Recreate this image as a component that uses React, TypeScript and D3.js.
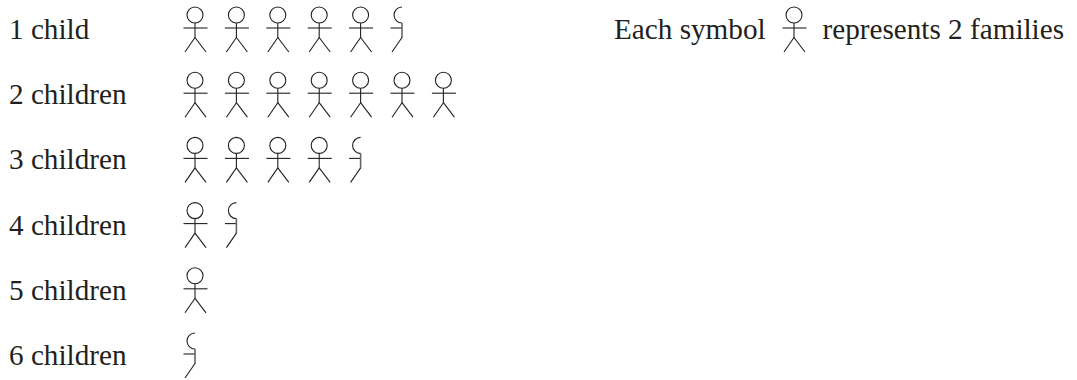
import React from "react";
import * as d3 from "d3";

const categories = ["1 child", "2 children", "3 children", "4 children", "5 children", "6 children"];
const families = [11, 14, 9, 3, 2, 1];
const familiesPerSymbol = 2;
const legendBefore = "Each symbol";
const legendAfter = "represents 2 families";

const W = 1077;
const H = 380;
const x = d3.scaleLinear().domain([0, 1]).range([195, 236.4]);
const y = d3.scaleLinear().domain([0, 1]).range([0, 65.2]);
const INK = "#231f20";

function Figure({ cx, half, top }: { cx: number; half: boolean; top: number }) {
  const head = d3.path();
  if (half) {
    head.arc(cx, top + 15, 8, -Math.PI / 2, Math.PI / 2, true);
  } else {
    head.arc(cx, top + 15, 8, 0, Math.PI * 2);
  }
  const line = d3.line();
  const sw = 1.1;
  return (
    <g fill="none" stroke={INK} strokeWidth={sw}>
      <path d={head.toString()} />
      <path d={line([[cx - 11.5, top + 28], [half ? cx : cx + 12.5, top + 28]]) || ""} />
      <path d={line([[cx, top + 23], [cx, top + 38]]) || ""} strokeWidth={half ? 1.6 : sw} stroke={half ? "#666" : INK} />
      <path d={line([[cx - 10, top + 52], [cx, top + 37.5]]) || ""} />
      {!half && <path d={line([[cx, top + 37.5], [cx + 11, top + 52]]) || ""} />}
    </g>
  );
}

export default function App() {
  return (
    <svg width={W} height={H} style={{ position: "absolute", left: 0, top: 0, background: "#fff" }}
      fontFamily="'Liberation Serif', serif" fontSize={29.2} fill={INK}>
      {categories.map((c, r) => {
        const symbols = families[r] / familiesPerSymbol;
        const whole = Math.floor(symbols);
        const items = d3.range(Math.ceil(symbols));
        return (
          <g key={c}>
            <text x={9} y={y(r) + 39}>{c}</text>
            {items.map((i) => (
              <Figure key={i} cx={x(i)} top={y(r)} half={i >= whole} />
            ))}
          </g>
        );
      })}
      <text x={614} y={39}>{legendBefore}</text>
      <Figure cx={794} top={0} half={false} />
      <text x={822.5} y={39}>{legendAfter}</text>
    </svg>
  );
}
